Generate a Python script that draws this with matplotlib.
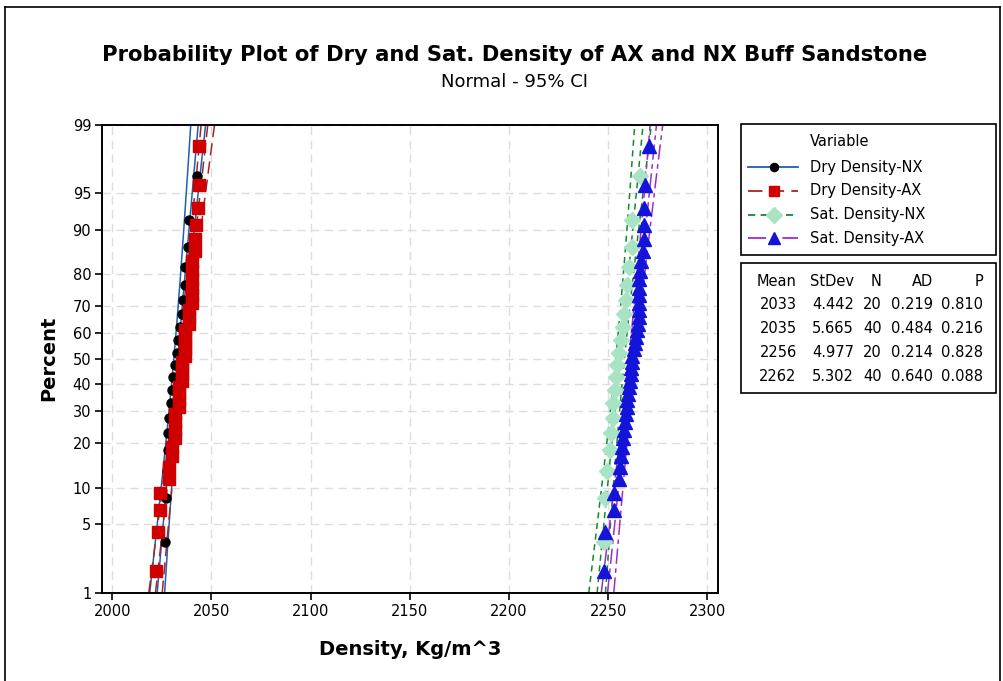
import numpy as np
import matplotlib.pyplot as plt
from matplotlib.lines import Line2D
from matplotlib.patches import Rectangle
from statistics import NormalDist

# Data (sorted sample values, kg/m^3)
dry_nx = [2026.6, 2027.1, 2027.6, 2028.0, 2028.2, 2028.7, 2029.5, 2030.0, 2030.8, 2031.6,
          2032.5, 2033.3, 2034.1, 2035.0, 2035.8, 2036.7, 2036.8, 2038.0, 2038.8, 2042.6]
dry_ax = [2022.2, 2023.1, 2023.9, 2023.9, 2028.4, 2028.4, 2030.1, 2030.1, 2031.8, 2031.8,
          2031.8, 2031.8, 2033.5, 2033.5, 2033.5, 2033.5, 2035.2, 2035.2, 2035.2, 2035.2,
          2036.8, 2036.8, 2036.8, 2036.8, 2036.8, 2038.5, 2038.5, 2038.5, 2040.4, 2040.4,
          2040.4, 2040.4, 2040.4, 2040.4, 2041.9, 2041.9, 2042.4, 2043.2, 2043.6, 2043.6]
sat_nx = [2247.8, 2248.2, 2249.5, 2250.9, 2251.2, 2252.2, 2252.6, 2253.3, 2253.8, 2254.6,
          2255.5, 2256.5, 2257.3, 2258.0, 2258.9, 2259.4, 2260.6, 2262.0, 2262.0, 2266.2]
sat_ax = [2247.8, 2248.2, 2252.8, 2252.8, 2255.5, 2256.0, 2256.6, 2257.1, 2257.7, 2258.0,
          2258.4, 2258.9, 2259.4, 2259.7, 2260.2, 2260.6, 2261.1, 2261.4, 2261.7, 2261.9,
          2262.2, 2263.1, 2263.5, 2264.0, 2264.5, 2264.8, 2265.3, 2265.3, 2265.3, 2265.7,
          2265.7, 2265.7, 2266.2, 2266.5, 2267.3, 2267.9, 2267.9, 2268.2, 2268.7, 2270.8]

names = ['Dry Density-NX', 'Dry Density-AX', 'Sat. Density-NX', 'Sat. Density-AX']
means = [2033, 2035, 2256, 2262]
stdevs = [4.442, 5.665, 4.977, 5.302]
ad_vals = ['0.219', '0.484', '0.214', '0.640']
p_vals = ['0.810', '0.216', '0.828', '0.088']
pct_ticks = [1, 5, 10, 20, 30, 40, 50, 60, 70, 80, 90, 95, 99]
x_ticks = [2000, 2050, 2100, 2150, 2200, 2250, 2300]

line_colors = ['#1f5fb4', '#a82424', '#128a30', '#9a2fc9']
line_styles = ['-', (0, (8, 4)), (0, (4, 3)), (0, (10, 3, 3, 3))]
markers = ['o', 's', 'D', '^']
marker_colors = ['black', '#d00000', '#a8e4c4', '#1414d8']
marker_sizes = [6.5, 8.5, 8.5, 9.5]

nd = NormalDist()
W, H = 1004, 681


def fx(px):
    return px / W


def fy(py):
    return 1 - py / H


fig = plt.figure(figsize=(10.04, 6.81), dpi=100)
ax = fig.add_axes([fx(102.3), fy(592.7), (718.3 - 102.3) / W, (592.7 - 124.7) / H])

zlo, zhi = nd.inv_cdf(0.01), nd.inv_cdf(0.99)
zz = np.linspace(zlo, zhi, 300)

series = [dry_nx, dry_ax, sat_nx, sat_ax]

# fitted lines and 95% confidence bands
for k, vals in enumerate(series):
    n = len(vals)
    fit = means[k] + stdevs[k] * zz
    half = 1.96 * stdevs[k] * np.sqrt(1 / n + zz ** 2 / (2 * n))
    for xs in (fit - half, fit, fit + half):
        ax.plot(xs, zz, color=line_colors[k], linestyle=line_styles[k], lw=1.1, zorder=2)

# data points at median-rank plotting positions
for k, vals in enumerate(series):
    n = len(vals)
    xs = np.sort(vals)
    pp = (np.arange(1, n + 1) - 0.3) / (n + 0.4)
    zs = [nd.inv_cdf(p) for p in pp]
    ax.plot(xs, zs, linestyle='none', marker=markers[k], color=marker_colors[k],
            markeredgecolor=marker_colors[k], markersize=marker_sizes[k], zorder=3 + k)

ax.set_xlim(1995, 2305.5)
ax.set_ylim(zlo, zhi)
ax.set_xticks(x_ticks)
ax.set_xticklabels([str(v) for v in x_ticks])
ax.set_yticks([nd.inv_cdf(p / 100) for p in pct_ticks])
ax.set_yticklabels([str(p) for p in pct_ticks])
ax.grid(True, color='#dddddd', linestyle=(0, (6, 4)), linewidth=1.0)
ax.set_axisbelow(True)
ax.tick_params(direction='out', length=5, width=1.2, labelsize=10.5, pad=3)
for s in ax.spines.values():
    s.set_linewidth(1.4)
    s.set_color('black')

ax.set_xlabel('Density, Kg/m^3', fontsize=14, fontweight='bold', labelpad=15)
ax.set_ylabel('Percent', fontsize=14, fontweight='bold', labelpad=10)

fig.text(fx(515), fy(55), 'Probability Plot of Dry and Sat. Density of AX and NX Buff Sandstone',
         ha='center', va='center', fontsize=15.2, fontweight='bold')
fig.text(fx(515), fy(82), 'Normal - 95% CI', ha='center', va='center', fontsize=13)

# outer frame of the graph window
for xs_, ys_ in [([5, 5], [H, 7]), ([5, 1000], [7, 7]), ([1000, 1000], [7, H])]:
    fig.add_artist(Line2D([fx(v) for v in xs_], [fy(v) for v in ys_], color='black', lw=1.2))

# legend box
fig.add_artist(Rectangle((fx(741), fy(255)), fx(996) - fx(741), fy(124.3) - fy(255),
                         fill=False, edgecolor='black', lw=1.2))
fig.text(fx(810), fy(142), 'Variable', ha='left', va='center', fontsize=10.5)
for k in range(4):
    yy = 167.3 + k * 23.7
    fig.add_artist(Line2D([fx(748), fx(798)], [fy(yy), fy(yy)], color=line_colors[k],
                          linestyle=line_styles[k], lw=1.3))
    fig.add_artist(Line2D([fx(774)], [fy(yy)], marker=markers[k], linestyle='none',
                          color=marker_colors[k], markersize=marker_sizes[k] * 0.9))
    fig.text(fx(810), fy(yy), names[k], ha='left', va='center', fontsize=10.5)

# statistics table
fig.add_artist(Rectangle((fx(741), fy(392.7)), fx(996) - fx(741), fy(262.7) - fy(392.7),
                         fill=False, edgecolor='black', lw=1.2))
col_right = [796.7, 854, 881.7, 932.7, 983.3]
headers = ['Mean', 'StDev', 'N', 'AD', 'P']
for c, h in enumerate(headers):
    fig.text(fx(col_right[c]), fy(281), h, ha='right', va='center', fontsize=10.5)
for k in range(4):
    row = [str(means[k]), '%.3f' % stdevs[k], str(len(series[k])), ad_vals[k], p_vals[k]]
    for c, t in enumerate(row):
        fig.text(fx(col_right[c]), fy(305 + k * 23.9), t, ha='right', va='center', fontsize=10.5)

fig.savefig('out.png', dpi=100)
